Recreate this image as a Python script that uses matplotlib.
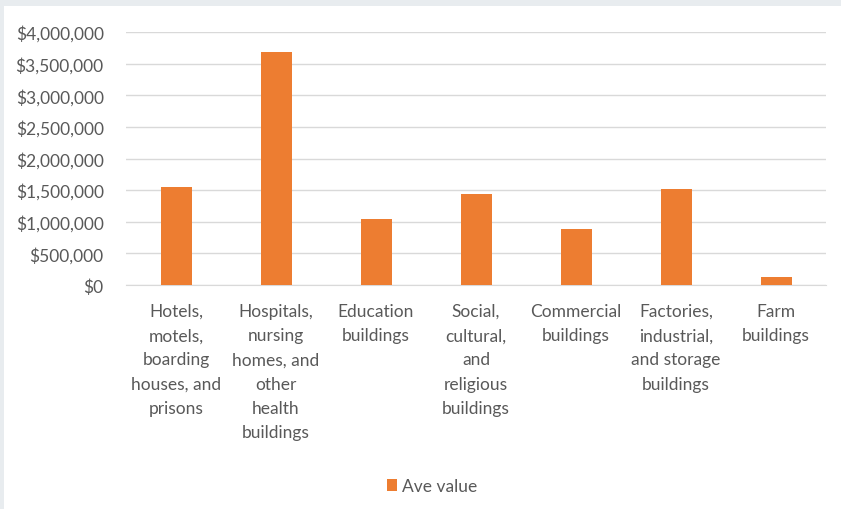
import matplotlib.pyplot as plt
from matplotlib.patches import Rectangle
from matplotlib.ticker import FuncFormatter, MultipleLocator

# Data
categories = [
    "Hotels,\nmotels,\nboarding\nhouses, and\nprisons",
    "Hospitals,\nnursing\nhomes, and\nother\nhealth\nbuildings",
    "Education\nbuildings",
    "Social,\ncultural,\nand\nreligious\nbuildings",
    "Commercial\nbuildings",
    "Factories,\nindustrial,\nand storage\nbuildings",
    "Farm\nbuildings",
]
ave_value = [1550000, 3680000, 1050000, 1440000, 880000, 1510000, 130000]

plt.rcParams['font.family'] = ['Lato', 'DejaVu Sans']
text_col = '#595959'
bar_col = '#ed7d31'
grid_col = '#d9d9d9'
fs = 12.5

W, H = 841, 510
fig = plt.figure(figsize=(W / 100, H / 100), dpi=100)
fig.patch.set_facecolor('#e8ecef')
# white chart area
fig.patches.append(Rectangle((4 / W, 0), 1, (H - 7) / H, transform=fig.transFigure,
                             facecolor='white', edgecolor='none', zorder=-1))

ax = fig.add_axes([126 / W, (H - 286) / H, 700 / W, 253 / H])
ax.set_facecolor('white')
x = range(len(categories))
ax.bar(x, ave_value, width=0.31, color=bar_col, zorder=3, label='Ave value')

ax.set_xlim(-0.5, len(categories) - 0.5)
ax.set_ylim(0, 4000000)
ax.yaxis.set_major_locator(MultipleLocator(500000))
ax.yaxis.set_major_formatter(FuncFormatter(lambda v, p: '${:,.0f}'.format(v)))
ax.grid(axis='y', color=grid_col, linewidth=1, zorder=0)
for s in ['top', 'right', 'left']:
    ax.spines[s].set_visible(False)
ax.spines['bottom'].set_color(grid_col)
ax.tick_params(length=0, colors=text_col, labelsize=fs)
ax.tick_params(axis='y', pad=16)
ax.tick_params(axis='x', pad=13)
ax.set_xticks(list(x))
ax.set_xticklabels(categories, linespacing=1.63)

leg = fig.legend(loc='center', bbox_to_anchor=(432 / W, (H - 487) / H), frameon=False,
                 handlelength=0.6, handleheight=0.75, handletextpad=0.3,
                 fontsize=fs, labelcolor=text_col)

fig.savefig('out.png', dpi=100, facecolor=fig.get_facecolor())
